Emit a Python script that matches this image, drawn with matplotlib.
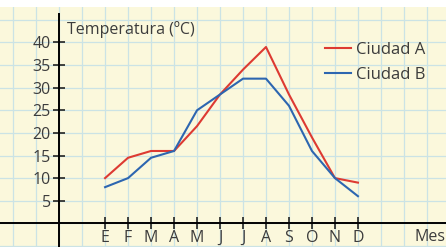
import matplotlib.pyplot as plt

meses = ['E', 'F', 'M', 'A', 'M', 'J', 'J', 'A', 'S', 'O', 'N', 'D']
ciudad_a = [10, 14.5, 16, 16, 21.5, 28.5, 34, 39, 28.5, 19, 10, 9]
ciudad_b = [8, 10, 14.5, 16, 25, 28.5, 32, 32, 26, 16, 10, 6]
y_ticks = [5, 10, 15, 20, 25, 30, 35, 40]

plt.rcParams['font.family'] = ['Open Sans', 'DejaVu Sans']
txt = '#3c3c3c'
fs = 11.5

fig = plt.figure(figsize=(4.46, 2.47), dpi=100)
fig.patch.set_facecolor('white')
ax = fig.add_axes([0, 0, 1, 240 / 247])
ax.set_facecolor('#fbf8dc')

x = list(range(len(meses)))
ax.plot(x, ciudad_a, color='#dd3a32', lw=1.5, label='Ciudad A', zorder=3)
ax.plot(x, ciudad_b, color='#2d66b0', lw=1.5, label='Ciudad B', zorder=3)

ax.set_xlim(-4.57, 14.83)
ax.set_ylim(-5.24, 47.85)

# graph paper grid
for gx in range(-4, 15):
    ax.axvline(gx, color='#cbe3e5', lw=0.9, zorder=0)
for gy in range(-5, 50, 5):
    ax.axhline(gy, color='#cbe3e5', lw=0.9, zorder=0)

for s in ['top', 'right']:
    ax.spines[s].set_visible(False)
ax.spines['left'].set_position(('data', -2))
ax.spines['bottom'].set_position(('data', 0))
ax.spines['left'].set_bounds(-5.24, 46.4)
ax.spines['left'].set_linewidth(1.4)
ax.spines['bottom'].set_linewidth(1.4)

ax.set_xticks(x)
ax.set_xticklabels(meses)
ax.set_yticks(y_ticks)
ax.tick_params(axis='both', direction='inout', length=9, width=1.1,
               colors='#111111', labelcolor=txt, labelsize=fs)
ax.tick_params(axis='x', pad=0.5)
ax.tick_params(axis='y', pad=1.5)

ax.text(0.150, 0.905, 'Temperatura (ºC)', transform=ax.transAxes,
        color=txt, fontsize=fs, va='center', ha='left')
ax.text(0.930, 0.04, 'Mes', transform=ax.transAxes,
        color=txt, fontsize=fs, va='center', ha='left')

ax.legend(loc='upper left', bbox_to_anchor=(0.728, 0.855), frameon=False,
          fontsize=12, handlelength=1.6, handletextpad=0.3,
          labelspacing=0.55, borderpad=0, borderaxespad=0, labelcolor=txt)

fig.savefig('out.png', dpi=100)
